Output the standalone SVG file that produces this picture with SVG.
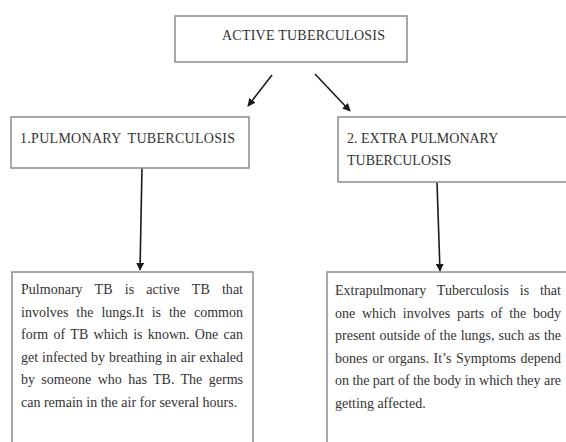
<svg xmlns="http://www.w3.org/2000/svg" width="566" height="442" viewBox="0 0 566 442" font-family="Liberation Serif, Times New Roman, Times, serif">
<style>
.box{fill:#fff;stroke:#8c8c8c;stroke-width:1.5}
text{font-size:14px;fill:#333}
.c{stroke:#1a1a1a;stroke-width:1.6;fill:none}
</style>
<defs>
<marker id="ah" viewBox="0 0 10 10" refX="9" refY="5" markerWidth="5" markerHeight="5" orient="auto" markerUnits="strokeWidth">
<path d="M0,0 L10,5 L0,10 z" fill="#1a1a1a"/>
</marker>
</defs>
<rect width="566" height="442" fill="#fff"/>
<g id="connectors">
<line class="c" x1="272" y1="75" x2="248" y2="106" marker-end="url(#ah)"/>
<line class="c" x1="315" y1="74" x2="350" y2="111" marker-end="url(#ah)"/>
<line class="c" x1="142" y1="168" x2="140" y2="270" marker-end="url(#ah)"/>
<line class="c" x1="437" y1="182" x2="440" y2="271" marker-end="url(#ah)"/>
</g>
<g id="active">
<rect class="box" x="175" y="16" width="232" height="46"/>
<text x="222" y="40" textLength="163">ACTIVE TUBERCULOSIS</text>
</g>
<g id="pulmonary">
<rect class="box" x="11" y="117" width="238" height="51"/>
<text x="20" y="143" textLength="215" style="word-spacing:3px">1.PULMONARY TUBERCULOSIS</text>
</g>
<g id="extra">
<rect class="box" x="338" y="117" width="240" height="65"/>
<text x="347" y="143">2. EXTRA PULMONARY</text>
<text x="347" y="165">TUBERCULOSIS</text>
</g>
<g id="pulmonary-desc">
<rect class="box" x="12" y="272" width="241" height="190"/>
<text x="21" y="294" textLength="222" style="word-spacing:8.7px">Pulmonary TB is active TB that</text>
<text x="21" y="316.5" textLength="222" style="word-spacing:4.4px">involves the lungs.It is the common</text>
<text x="21" y="339" textLength="222" style="word-spacing:1.8px">form of TB which is known. One can</text>
<text x="21" y="361.5" textLength="222" style="word-spacing:0.4px">get infected by breathing in air exhaled</text>
<text x="21" y="384" textLength="222" style="word-spacing:2.8px">by someone who has TB. The germs</text>
<text x="21" y="406.5">can remain in the air for several hours.</text>
</g>
<g id="extra-desc">
<rect class="box" x="327" y="272" width="250" height="190"/>
<text x="335" y="295" textLength="226" style="word-spacing:7.3px">Extrapulmonary Tuberculosis is that</text>
<text x="335" y="317.5" textLength="226" style="word-spacing:3.2px">one which involves parts of the body</text>
<text x="335" y="340" textLength="226" style="word-spacing:0.5px">present outside of the lungs, such as the</text>
<text x="335" y="362.5" textLength="226" style="word-spacing:0.9px">bones or organs. It’s Symptoms depend</text>
<text x="335" y="385" textLength="226">on the part of the body in which they are</text>
<text x="335" y="407.5">getting affected.</text>
</g>
</svg>
